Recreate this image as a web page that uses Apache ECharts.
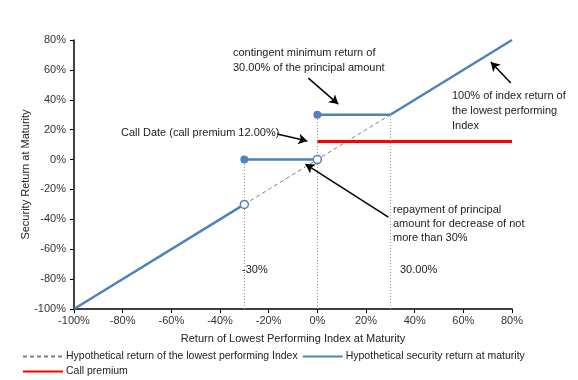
<!DOCTYPE html>
<html><head><meta charset="utf-8">
<script src="https://cdn.jsdelivr.net/npm/echarts@6/dist/echarts.min.js"></script>
<style>html,body{margin:0;padding:0;background:#fff}#c{width:578px;height:380px}</style>
</head><body><div id="c"></div>
<script>
// Data (percent)
const xTicks = [-100,-80,-60,-40,-20,0,20,40,60,80];
const yTicks = [-100,-80,-60,-40,-20,0,20,40,60,80];
const indexReturnDashed = [[-30,-30],[30,30]];
const securityLow = [[-100,-100],[-30,-30]];
const securityRepay = [[-30,0],[0,0]];
const securityMin = [[0,30],[30,30]];
const securityHigh = [[30,30],[80,80]];
const callPremium = [[0,12],[80,12]];
const filledDots = [[-30,0],[0,30]];
const openDots = [[0,0],[-30,-30]];
const verticalGuides = [[-30,-100,0],[0,-100,30],[30,-100,30]];
const arrows = [
  [[-3.7,54.5],[8.6,37.1]],
  [[-16.5,17.1],[-4.1,12.4]],
  [[79.5,51.2],[71.3,65.3]],
  [[29.2,-38.5],[-4.9,-3.0]]
];
const names = {
  idx: 'Hypothetical return of the lowest performing Index',
  sec: 'Hypothetical security return at maturity',
  call: 'Call premium'
};

const BLUE = '#4F81BD';
const FONT = '"Liberation Sans", Arial, sans-serif';
const chart = echarts.init(document.getElementById('c'));
const axisCommon = {
  type: 'value', min: -100, max: 80, interval: 20,
  axisLine: {show: true, onZero: false, lineStyle: {color: '#000', width: 1.5}},
  axisTick: {show: true, length: 4, lineStyle: {color: '#000'}},
  splitLine: {show: false},
  axisLabel: {formatter: v => v + '%', color: '#333', fontSize: 11, fontFamily: FONT},
  nameTextStyle: {color: '#222', fontSize: 11, fontFamily: FONT},
  nameMoveOverlap: false
};
const blueLine = {type: 'line', name: names.sec, symbol: 'none', lineStyle: {color: BLUE, width: 2.5}, itemStyle: {color: BLUE}, z: 3};

chart.setOption({
  animation: false,
  grid: {left: 74, right: 66, top: 40, bottom: 71},
  xAxis: Object.assign({}, axisCommon, {
    name: 'Return of Lowest Performing Index at Maturity', nameLocation: 'middle', nameGap: 24,
    axisLabel: Object.assign({}, axisCommon.axisLabel, {margin: 6})
  }),
  yAxis: Object.assign({}, axisCommon, {
    name: 'Security Return at Maturity', nameLocation: 'middle', nameGap: 43
  }),
  legend: {
    left: 17, top: 346, width: 540, itemWidth: 40, itemHeight: 10, itemGap: 4,
    itemStyle: {opacity: 0},
    data: [names.idx, names.sec, names.call],
    textStyle: {color: '#222', fontSize: 10.5, fontFamily: FONT, padding: [0,0,0,-2]}
  },
  series: [
    {type: 'line', name: names.idx, data: indexReturnDashed, symbol: 'none',
     lineStyle: {color: '#808080', width: 1, type: [4,3]}, itemStyle: {color: '#808080'}, z: 2,
     markLine: {
       silent: true, symbol: 'none', label: {show: false},
       lineStyle: {color: '#999', width: 1, type: [1,2]},
       data: verticalGuides.map(g => [{coord: [g[0], g[1]]}, {coord: [g[0], g[2]]}])
     }},
    Object.assign({}, blueLine, {data: securityLow}),
    Object.assign({}, blueLine, {data: securityRepay}),
    Object.assign({}, blueLine, {data: securityMin}),
    Object.assign({}, blueLine, {data: securityHigh}),
    {type: 'line', name: names.call, data: callPremium, symbol: 'none',
     lineStyle: {color: '#FF0000', width: 3}, itemStyle: {color: '#FF0000'}, z: 3,
     markLine: {
       silent: true, symbol: ['none', 'arrow'], symbolSize: [8, 9], label: {show: false},
       lineStyle: {color: '#000', width: 1.5, type: 'solid'},
       data: arrows.map(a => [{coord: a[0]}, {coord: a[1]}])
     }},
    {type: 'scatter', name: 'filled', data: filledDots, symbol: 'circle', symbolSize: 8,
     itemStyle: {color: BLUE, opacity: 1}, z: 5},
    {type: 'scatter', name: 'open', data: openDots, symbol: 'circle', symbolSize: 8,
     itemStyle: {color: '#fff', borderColor: BLUE, borderWidth: 1.5, opacity: 1}, z: 5}
  ],
  graphic: [
    {type: 'text', left: 233, top: 45, style: {text: 'contingent minimum return of\n30.00% of the principal amount', font: '11px ' + FONT, fill: '#222', lineHeight: 15}},
    {type: 'text', left: 121, top: 127, style: {text: 'Call Date (call premium 12.00%)', font: '11px ' + FONT, fill: '#222'}},
    {type: 'text', left: 452, top: 88, style: {text: '100% of index return of\nthe lowest performing\nIndex', font: '11px ' + FONT, fill: '#222', lineHeight: 15}},
    {type: 'text', left: 393, top: 203, style: {text: 'repayment of principal\namount for decrease of not\nmore than 30%', font: '11px ' + FONT, fill: '#222', lineHeight: 14}},
    {type: 'text', left: 242, top: 264, style: {text: '-30%', font: '11px ' + FONT, fill: '#222'}},
    {type: 'text', left: 400, top: 264, style: {text: '30.00%', font: '11px ' + FONT, fill: '#222'}}
  ]
});
</script></body></html>
